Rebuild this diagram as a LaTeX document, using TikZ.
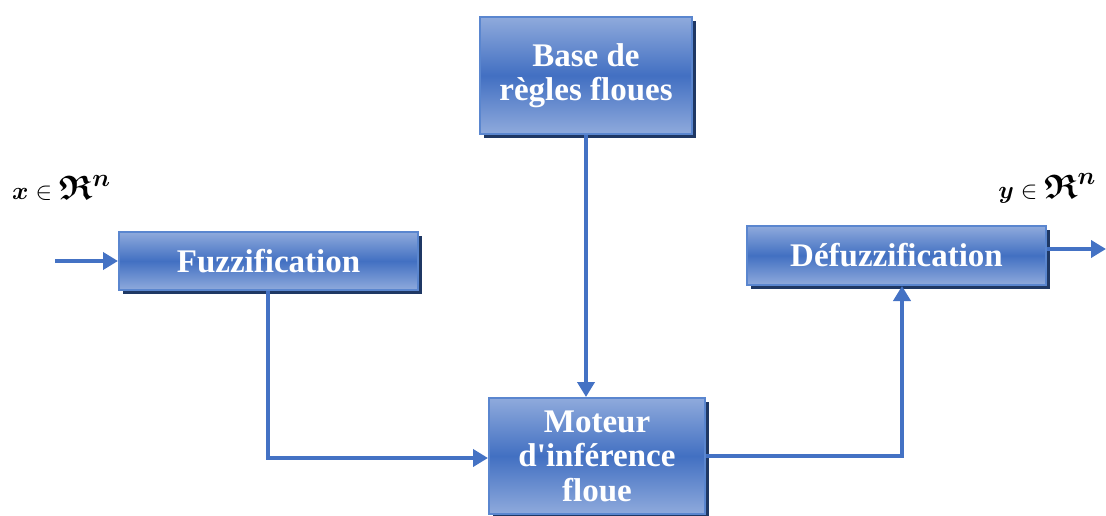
\documentclass[tikz,border=0pt]{standalone}
\usepackage{amsmath,amssymb,bm}
\usepackage{fontspec}
\setmainfont{Liberation Serif}[Ligatures=TeXOff]
\usetikzlibrary{shadows,arrows.meta}
\definecolor{linec}{HTML}{4472C4}
\definecolor{boxlight}{HTML}{8FAADC}
\definecolor{boxdark}{HTML}{4270C2}
\definecolor{boxedge}{HTML}{5A86CF}
\definecolor{shadowc}{HTML}{1F3864}
\tikzset{
  block/.style={draw=boxedge, line width=2pt, rectangle, inner sep=0pt,
    top color=boxlight, bottom color=boxlight, middle color=boxdark,
    drop shadow={shadow xshift=4pt, shadow yshift=-4pt, fill=shadowc, opacity=1},
    text=white, align=center,
    font=\fontsize{33}{34.5}\selectfont\bfseries},
  link/.style={draw=linec, line width=4.5pt, -{Triangle[length=15pt,width=17pt]}},
  lab/.style={font=\fontsize{34}{36}\selectfont, inner sep=0pt}
}
\begin{document}
\begin{tikzpicture}[x=1pt,y=-1pt]
  \useasboundingbox (0,0) rectangle (1106,516);
  % blocks
  \node[block, minimum width=212pt, minimum height=117pt] (base) at (586,75.5) {Base de\\règles floues};
  \node[block, minimum width=299pt, minimum height=58pt] (fuzz) at (268.5,261) {Fuzzification};
  \node[block, minimum width=299pt, minimum height=59pt] (defuzz) at (896.5,255.5) {Défuzzification};
  \node[block, minimum width=216pt, minimum height=116pt] (mot) at (597,456) {Moteur\\d'inférence\\floue};
  % labels
  \node[lab, anchor=west] (xin) at (12,188) {$\bm{x}\in\bm{\mathfrak{R}}^{\bm{n}}$};
  \node[lab, anchor=east] (yout) at (1096,188) {$\bm{y}\in\bm{\mathfrak{R}}^{\bm{n}}$};
  % free ends
  \coordinate (inp) at (55,261);
  \coordinate (outp) at (1106,249);
  % connectors
  \draw[link] (base.south) -- (base.south |- mot.north);
  \draw[link] (inp) -- (fuzz.west);
  \draw[link] (fuzz.south -| 268,0) |- (mot.west |- 0,458);
  \draw[link] (mot.east |- 0,456) -| (defuzz.south -| 902,0);
  \draw[link] (defuzz.east |- 0,249) -- (outp);
\end{tikzpicture}
\end{document}
